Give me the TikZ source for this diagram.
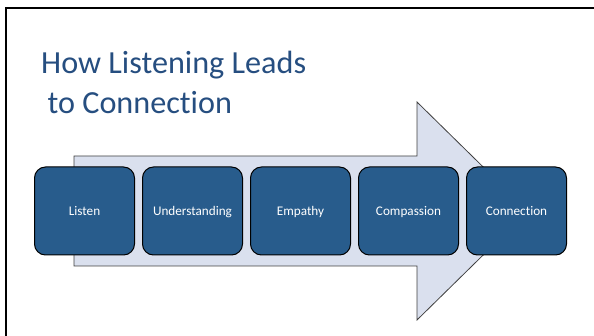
\documentclass[tikz,border=0pt]{standalone}
\usepackage{fontspec}
\setmainfont[Ligatures=NoCommon]{Carlito}
\usetikzlibrary{positioning}
\definecolor{titleblue}{RGB}{38,78,128}
\definecolor{boxblue}{RGB}{40,92,140}
\definecolor{arrowfill}{RGB}{218,224,238}

\begin{document}
\begin{tikzpicture}[x=1pt,y=-1pt,node distance=108pt,on grid,
    stage/.style={draw=black,line width=1pt,fill=boxblue,rounded corners=11pt,
      minimum width=100pt,minimum height=88pt,inner sep=0pt,
      text height=2ex,text depth=0.3ex,
      text=white,font=\fontsize{13.2}{16}\selectfont},
    bigarrow/.style={draw=black!75,line width=0.8pt,fill=arrowfill}]
   \useasboundingbox (0,0) rectangle (594,336);
   % slide frame
   \draw[line width=2pt] (6,336) -- (6,8) -- (594,8);
   % title (base anchor sits on the last line)
   \node[anchor=base west,inner sep=0pt,align=left,text=titleblue,
     font=\fontsize{32.2}{40.7}\selectfont] (title) at (41,114)
     {How Listening Leads\\\hspace*{0.2em}to Connection};
   % arrow behind the stages
   \draw[bigarrow] (74,156) -- (417,156) -- (417,102) -- (528,211)
     -- (417,320) -- (417,266) -- (74,266) -- cycle;
   % stages
   \node[stage] (listen) at (84.5,211) {Listen};
   \node[stage] (under) [right=of listen] {Understanding};
   \node[stage] (empathy) [right=of under] {Empathy};
   \node[stage] (compassion) [right=of empathy] {Compassion};
   \node[stage] (connection) [right=of compassion] {Connection};
\end{tikzpicture}
\end{document}
